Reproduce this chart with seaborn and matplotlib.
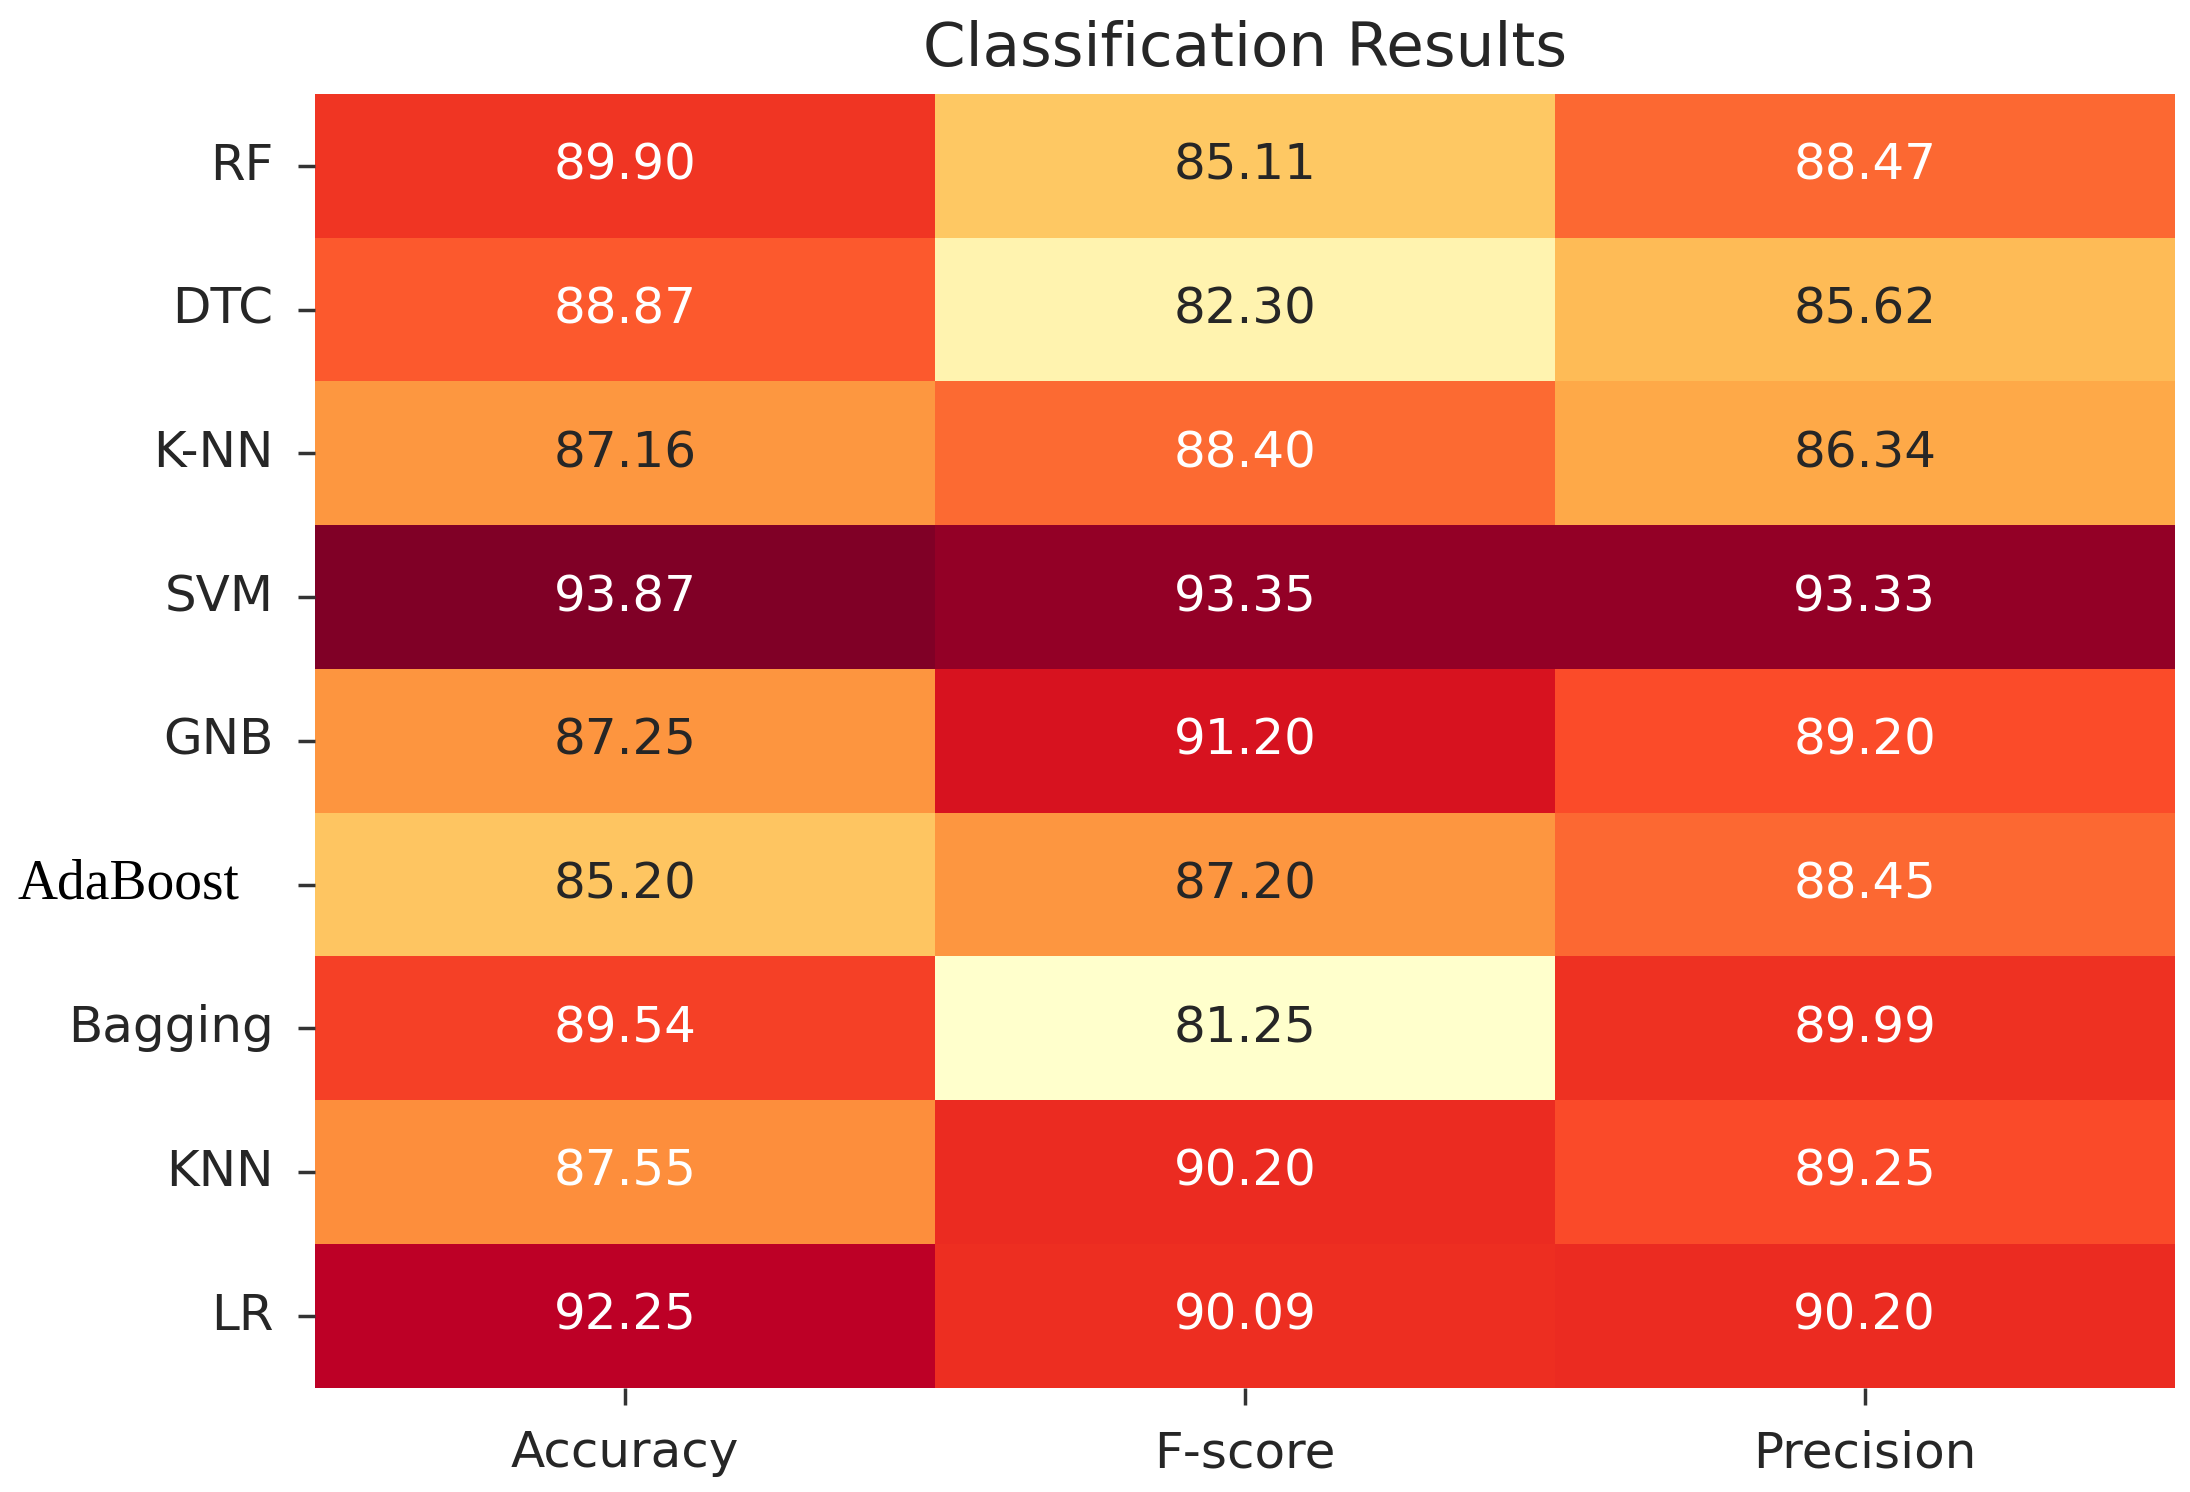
import numpy as np
import pandas as pd
import matplotlib
matplotlib.use("Agg")
import matplotlib.pyplot as plt
import matplotlib.transforms as mtransforms
import seaborn as sns

# classifier results (percent)
models = ["RF", "DTC", "K-NN", "SVM", "GNB", "AdaBoost", "Bagging", "KNN", "LR"]
metrics = ["Accuracy", "F-score", "Precision"]
accuracy = [89.90, 88.87, 87.16, 93.87, 87.25, 85.20, 89.54, 87.55, 92.25]
fscore = [85.11, 82.30, 88.40, 93.35, 91.20, 87.20, 81.25, 90.20, 90.09]
precision = [88.47, 85.62, 86.34, 93.33, 89.20, 88.45, 89.99, 89.25, 90.20]

data = pd.DataFrame({"Accuracy": accuracy, "F-score": fscore, "Precision": precision},
                    index=models)[metrics]

fig = plt.figure(figsize=(21.9, 14.92), dpi=100)
ax = fig.add_axes([0.144, 0.070, 0.849, 0.867])

sns.heatmap(data, annot=True, fmt=".2f", cmap="YlOrRd", cbar=False, ax=ax,
            annot_kws={"fontsize": 36})

ax.set_title("Classification Results", fontsize=44, color="#262626", pad=20)

# AdaBoost label is drawn separately in a serif face, left-aligned at the figure edge
ylabels = ["" if m == "AdaBoost" else m for m in models]
ax.set_yticklabels(ylabels, rotation=0, fontsize=36, color="#262626")
ax.set_xticklabels(metrics, rotation=0, fontsize=36, color="#262626")
ax.tick_params(axis="both", length=12, width=2.5, color="#333333", pad=18)

trans = mtransforms.blended_transform_factory(fig.transFigure, ax.transData)
ax.text(0.008, models.index("AdaBoost") + 0.5, "AdaBoost", transform=trans,
        ha="left", va="center", fontsize=40, family="Liberation Serif",
        color="black", clip_on=False)

ax.set_xlabel("")
ax.set_ylabel("")

fig.savefig("out.png", dpi=100)
